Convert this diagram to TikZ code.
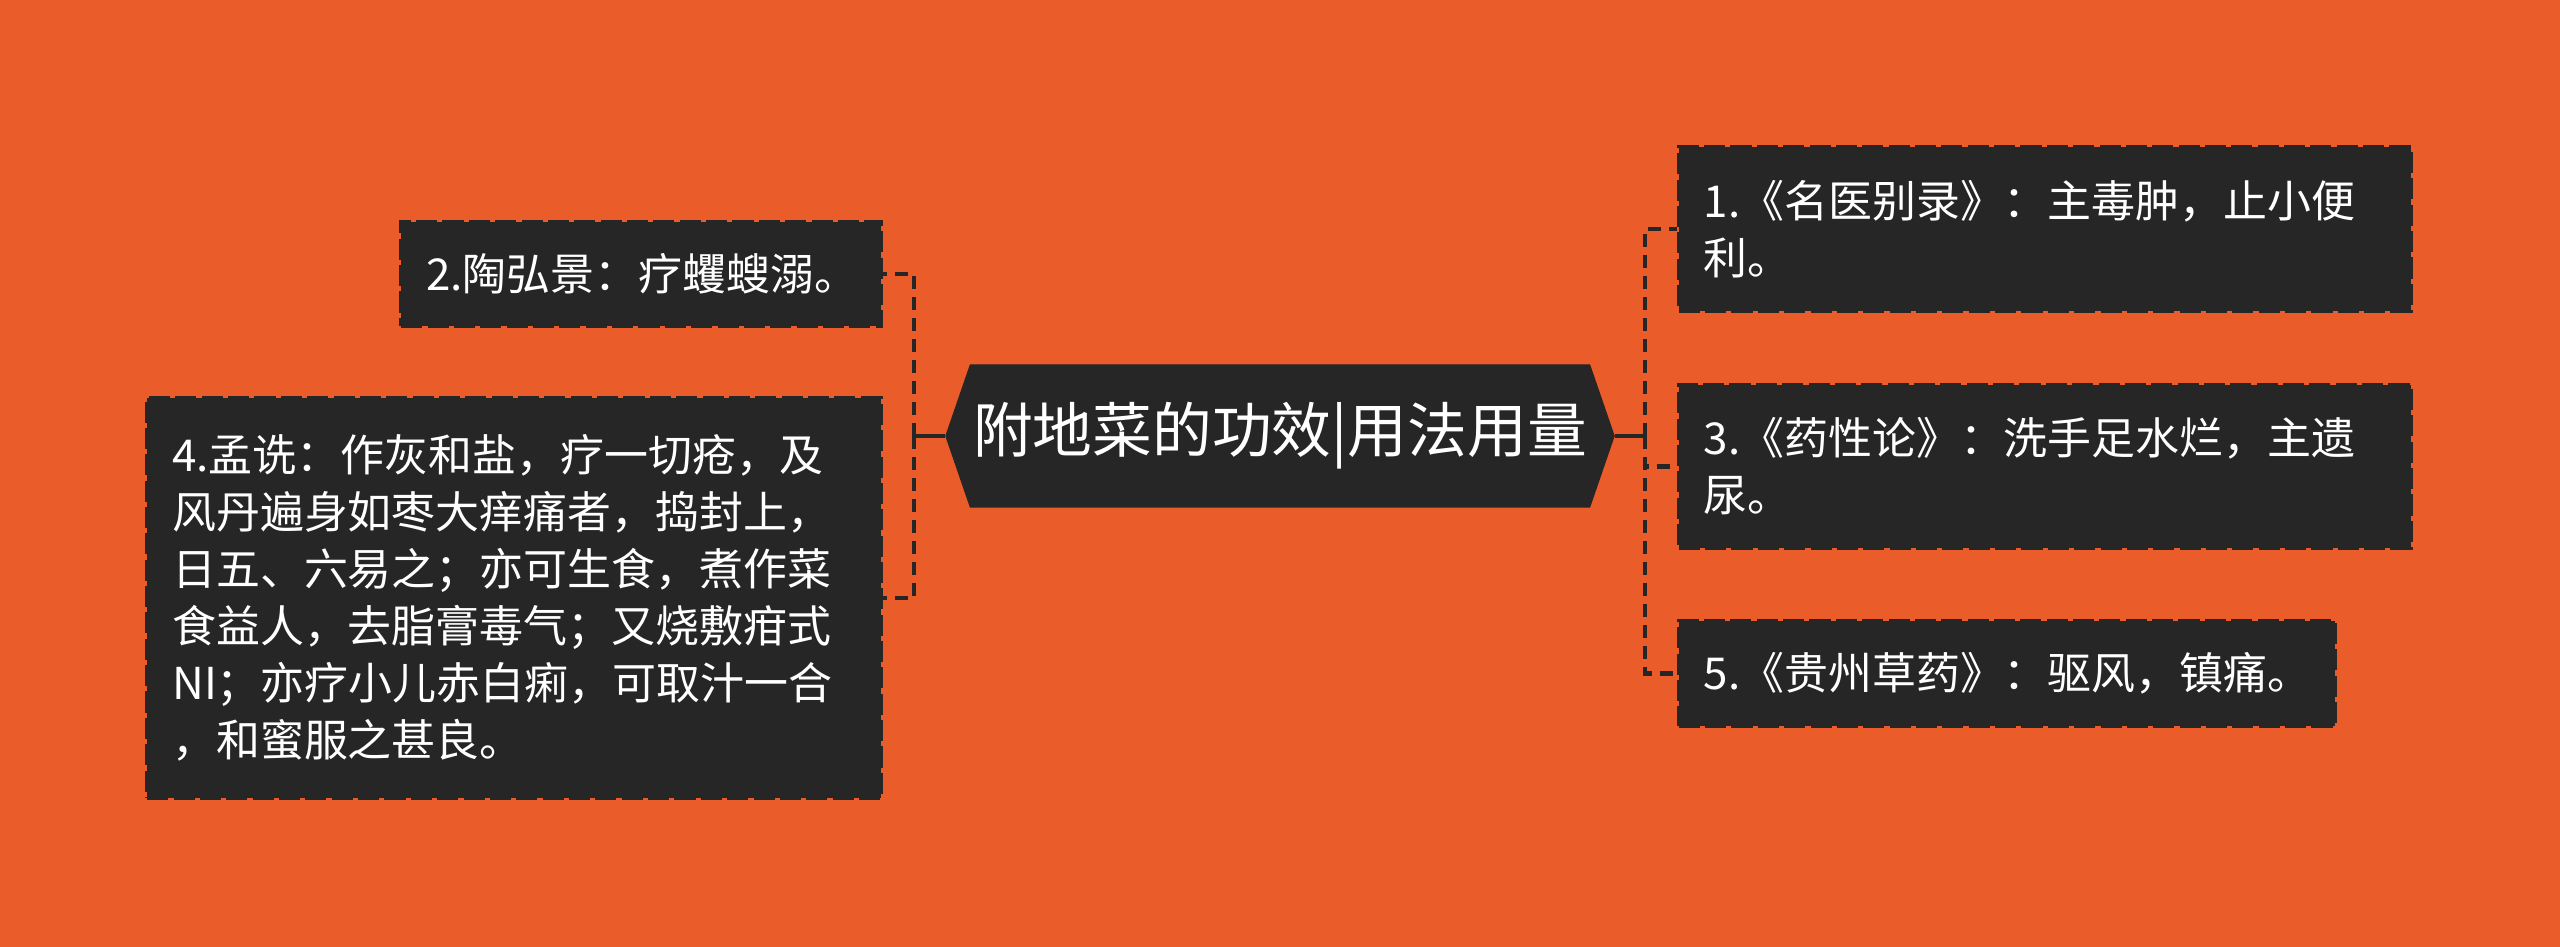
\documentclass[tikz,border=0pt]{standalone}
\usepackage{fontspec}
\newfontfamily\cjk{Noto Sans CJK SC}
\usetikzlibrary{shapes.symbols}
\definecolor{bgorange}{HTML}{EA5C29}
\definecolor{boxdark}{HTML}{262626}

\begin{document}
\begin{tikzpicture}[
    font=\cjk\fontsize{12.5}{16.2}\selectfont,
    topic/.style={shape=signal, signal to=west and east, signal pointer angle=142,
                  fill=boxdark, draw=boxdark, text=white, inner sep=0pt,
                  minimum width=6.68cm, minimum height=1.42cm,
                  font=\cjk\fontsize{17}{20}\selectfont},
    leaf/.style={fill=boxdark, draw=boxdark, line width=1pt, dash pattern=on 6pt off 1.5pt,
                 text=white, align=left, inner xsep=0.25cm, inner ysep=0pt},
    link/.style={draw=boxdark, line width=1.15pt},
    dlink/.style={link, dash pattern=on 0.13cm off 0.08cm}
]
\fill[bgorange] (0,0) rectangle (25.6,9.47);
\useasboundingbox (0,0) rectangle (25.6,9.47);

% Central topic.
\node[topic] (topic) at (12.80,5.11) {附地菜的功效|用法用量};

% Left branches.
\node[leaf, anchor=east, text width=4.30cm, minimum height=1.04cm] (n2) at (8.83,6.73)
    {2.陶弘景：疗蠼螋溺。};
\node[leaf, anchor=east, text width=6.84cm, minimum height=4.00cm] (n4) at (8.83,3.49)
    {4.孟诜：作灰和盐，疗一切疮，及\\风丹遍身如枣大痒痛者，捣封上，\\日五、六易之；亦可生食，煮作菜\\食益人，去脂膏毒气；又烧敷疳式\\NI；亦疗小儿赤白痢，可取汁一合\\，和蜜服之甚良。};

% Right branches.
\node[leaf, anchor=west, text width=6.82cm, minimum height=1.64cm] (n1) at (16.77,7.18)
    {1.《名医别录》：主毒肿，止小便\\利。};
\node[leaf, anchor=west, text width=6.82cm, minimum height=1.63cm] (n3) at (16.77,4.805)
    {3.《药性论》：洗手足水烂，主遗\\尿。};
\node[leaf, anchor=west, text width=6.06cm, minimum height=1.05cm] (n5) at (16.77,2.735)
    {5.《贵州草药》：驱风，镇痛。};

% Connectors.
\coordinate (lhub) at (9.14,5.11);
\coordinate (rhub) at (16.45,5.11);
\draw[link] (topic.west) -- (lhub);
\draw[link] (topic.east) -- (rhub);
\draw[dlink] (lhub) |- (n2.east);
\draw[dlink] (lhub) |- (n4.east);
\draw[dlink] (rhub) |- (n1.west);
\draw[dlink] (rhub) |- (n3.west);
\draw[dlink] (rhub) |- (n5.west);

\end{tikzpicture}
\end{document}
